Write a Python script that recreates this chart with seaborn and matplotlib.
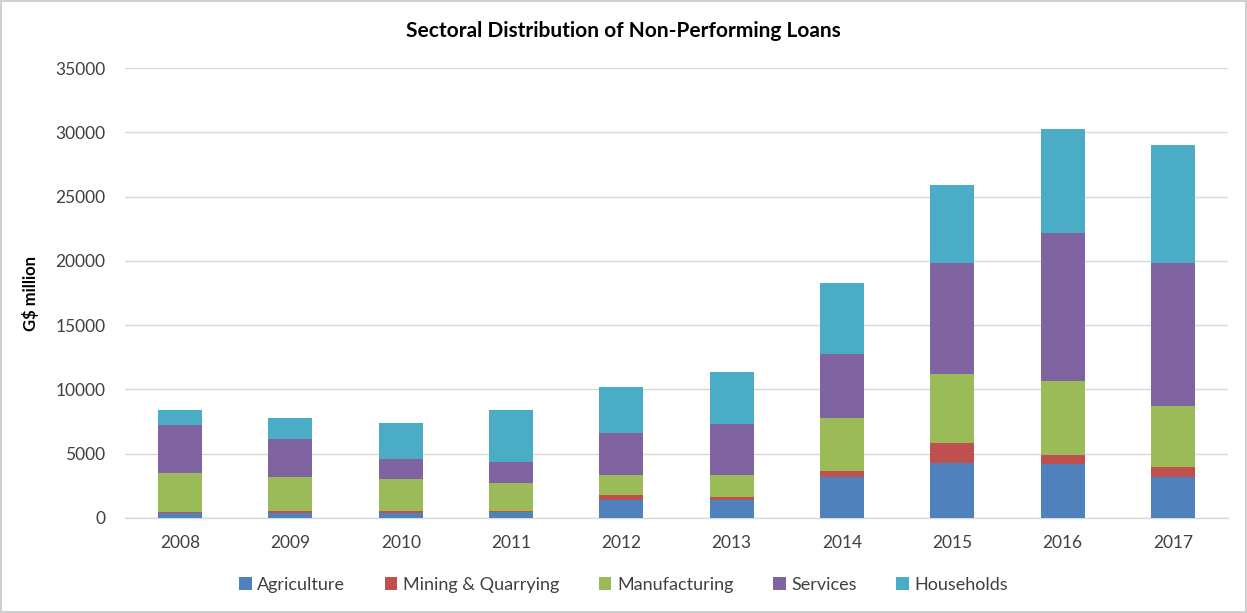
import matplotlib
matplotlib.use("Agg")
import matplotlib.pyplot as plt
from matplotlib.patches import Patch
import seaborn as sns
import numpy as np
import pandas as pd

years = ["2008", "2009", "2010", "2011", "2012", "2013", "2014", "2015", "2016", "2017"]
agriculture   = [410, 390, 400, 440, 1400, 1400, 3160, 4280, 4220, 3160]
mining        = [30, 180, 120, 130, 360, 200, 520, 1520, 700, 830]
manufacturing = [3080, 2640, 2520, 2150, 1590, 1740, 4120, 5370, 5730, 4740]
services      = [3710, 2960, 1520, 1660, 3290, 3990, 4980, 8660, 11530, 11140]
households    = [1170, 1630, 2800, 4020, 3550, 4020, 5500, 6070, 8090, 9130]

sectors = ["Agriculture", "Mining & Quarrying", "Manufacturing", "Services", "Households"]
colors = ["#4F81BD", "#C0504D", "#9BBB59", "#8064A2", "#4BACC6"]

sns.set_theme(style="white")
plt.rcParams["font.family"] = ["Lato", "DejaVu Sans"]

series = [agriculture, mining, manufacturing, services, households]
cum = np.cumsum(np.array(series, dtype=float), axis=0)

fig = plt.figure(figsize=(12.47, 6.13), dpi=100)
ax = fig.add_axes([0.1002, 0.155, 0.8846, 0.734])

# draw cumulative totals from the top segment down so each covers the one below
for i in range(len(sectors) - 1, -1, -1):
    df = pd.DataFrame({"year": years, "value": cum[i]})
    sns.barplot(data=df, x="year", y="value", color=colors[i], width=0.4,
                saturation=1, ax=ax, zorder=3, linewidth=0)

ax.set_ylim(0, 35000)
ax.set_xlim(-0.5, 9.5)
ax.set_yticks(np.arange(0, 35001, 5000))
ax.yaxis.grid(True, color="#d9d9d9", linewidth=1)
ax.set_axisbelow(True)
for s in ["left", "right", "top"]:
    ax.spines[s].set_visible(False)
ax.spines["bottom"].set_color("#d9d9d9")
ax.spines["bottom"].set_linewidth(1)
ax.tick_params(axis="both", length=0, labelsize=12.5, colors="#404040")
ax.tick_params(axis="y", pad=14)
ax.tick_params(axis="x", pad=12)
ax.set_xlabel("")
ax.set_ylabel("G\\$ million", fontsize=12, fontweight="bold", color="black", labelpad=12)

fig.suptitle("Sectoral Distribution of Non-Performing Loans", x=0.5, y=0.965,
             fontsize=15, fontweight="bold", color="black")

handles = [Patch(facecolor=c, edgecolor="none", label=l) for c, l in zip(colors, sectors)]
fig.legend(handles=handles, loc="center", bbox_to_anchor=(0.5, 0.046), ncol=5,
           frameon=False, fontsize=13, handlelength=0.7, handleheight=0.7,
           handletextpad=0.3, columnspacing=2.2, labelcolor="#404040")

fig.patch.set_edgecolor("#d0d0d0")
fig.patch.set_linewidth(1.5)

fig.savefig("out.png", dpi=100, edgecolor=fig.get_edgecolor())
